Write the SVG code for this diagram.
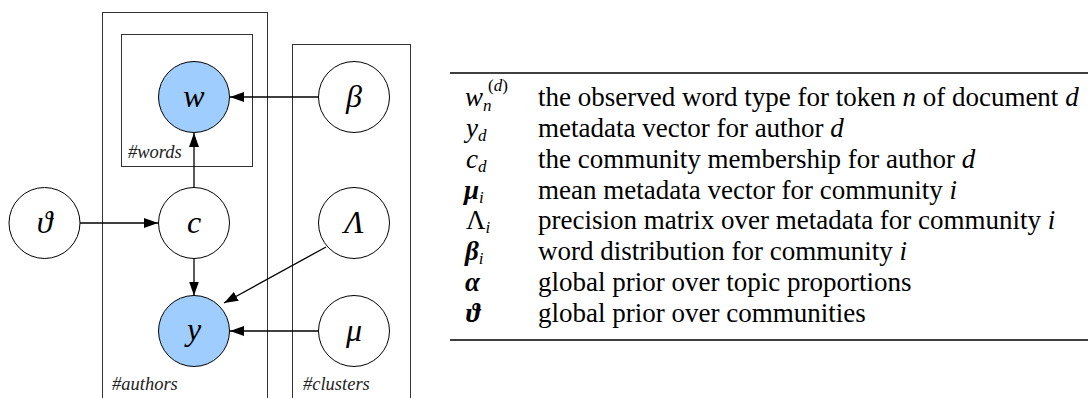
<svg xmlns="http://www.w3.org/2000/svg" width="1089" height="398" viewBox="0 0 1089 398">
<style>
.plate{fill:none;stroke:#333;stroke-width:1}
.node{fill:#fff;stroke:#000;stroke-width:1}
.obs{fill:#9fcdfd;stroke:#000;stroke-width:1}
.lbl{font-family:"Liberation Serif","Times New Roman",serif;font-style:italic;font-size:32px;text-anchor:middle;fill:#000}
.plbl{font-family:"Liberation Serif","Times New Roman",serif;font-style:italic;font-size:18.5px;fill:#222}
.edge{stroke:#000;stroke-width:1.3;fill:none;marker-end:url(#ah)}
.tx{font-family:"Liberation Serif","Times New Roman",serif;font-size:27px;fill:#000}
.mi{font-style:italic}
.mb{font-style:italic;font-weight:bold}
.sub{font-size:17px}
.rule{stroke:#000;stroke-width:1.6}
</style>
<defs>
<marker id="ah" viewBox="0 0 14 10" refX="14" refY="5" markerWidth="14" markerHeight="10" markerUnits="userSpaceOnUse" orient="auto">
<path d="M0,0 L14,5 L0,10 Z" fill="#000"/>
</marker>
</defs>
<g id="plates">
<rect id="plate-authors" class="plate" x="102.5" y="12.5" width="165" height="400"/>
<rect id="plate-words" class="plate" x="121.5" y="34.5" width="131" height="132"/>
<rect id="plate-clusters" class="plate" x="292.5" y="44.5" width="118" height="370"/>
<text class="plbl" x="128" y="158">#words</text>
<text class="plbl" x="112" y="390">#authors</text>
<text class="plbl" x="303" y="390">#clusters</text>
</g>
<g id="connectors">
<line class="edge" x1="318.5" y1="97" x2="230" y2="97"/>
<line class="edge" x1="194" y1="187.5" x2="194" y2="133"/>
<line class="edge" x1="80" y1="223" x2="158" y2="223"/>
<line class="edge" x1="194" y1="258.5" x2="194" y2="295.5"/>
<line class="edge" x1="326" y1="247" x2="224" y2="303"/>
<line class="edge" x1="318.5" y1="331" x2="230" y2="331"/>
</g>
<g id="node-w"><circle class="obs" cx="194" cy="97" r="35.5"/><text class="lbl" x="194" y="107">w</text></g>
<g id="node-beta"><circle class="node" cx="354" cy="97" r="35.5"/><text class="lbl" x="354" y="107">β</text></g>
<g id="node-theta"><circle class="node" cx="44.5" cy="223" r="35.5"/><text class="lbl" x="44.5" y="233">ϑ</text></g>
<g id="node-c"><circle class="node" cx="194" cy="223" r="35.5"/><text class="lbl" x="194" y="233">c</text></g>
<g id="node-lambda"><circle class="node" cx="354" cy="223" r="35.5"/><text class="lbl" x="354" y="233">Λ</text></g>
<g id="node-y"><circle class="obs" cx="194" cy="331" r="35.5"/><text class="lbl" x="194" y="340">y</text></g>
<g id="node-mu"><circle class="node" cx="354" cy="331" r="35.5"/><text class="lbl" x="354" y="341">μ</text></g>
<g id="legend">
<line class="rule" x1="450" y1="73" x2="1088" y2="73"/>
<line class="rule" x1="450" y1="340" x2="1088" y2="340"/>
<text class="tx" x="465" y="106"><tspan class="mi">w</tspan><tspan class="mi sub" dy="5">n</tspan></text>
<text class="tx sub" x="488" y="91">(<tspan class="mi">d</tspan>)</text>
<text class="tx" x="538" y="106">the observed word type for token <tspan class="mi">n</tspan> of document <tspan class="mi">d</tspan></text>
<text class="tx" x="466" y="137"><tspan class="mi">y</tspan><tspan class="mi sub" dy="4">d</tspan></text>
<text class="tx" x="538" y="137">metadata vector for author <tspan class="mi">d</tspan></text>
<text class="tx" x="466" y="168"><tspan class="mi">c</tspan><tspan class="mi sub" dy="4">d</tspan></text>
<text class="tx" x="538" y="168">the community membership for author <tspan class="mi">d</tspan></text>
<text class="tx" x="464" y="199"><tspan class="mb">μ</tspan><tspan class="mi sub" dy="4">i</tspan></text>
<text class="tx" x="538" y="199">mean metadata vector for community <tspan class="mi">i</tspan></text>
<text class="tx" x="466" y="229">Λ<tspan class="mi sub" dy="4">i</tspan></text>
<text class="tx" x="538" y="229">precision matrix over metadata for community <tspan class="mi">i</tspan></text>
<text class="tx" x="465" y="260"><tspan class="mb">β</tspan><tspan class="mi sub" dy="4">i</tspan></text>
<text class="tx" x="538" y="260">word distribution for community <tspan class="mi">i</tspan></text>
<text class="tx" x="465" y="291"><tspan class="mb">α</tspan></text>
<text class="tx" x="538" y="291">global prior over topic proportions</text>
<text class="tx" x="466" y="322"><tspan class="mb">ϑ</tspan></text>
<text class="tx" x="538" y="322">global prior over communities</text>
</g>
</svg>
